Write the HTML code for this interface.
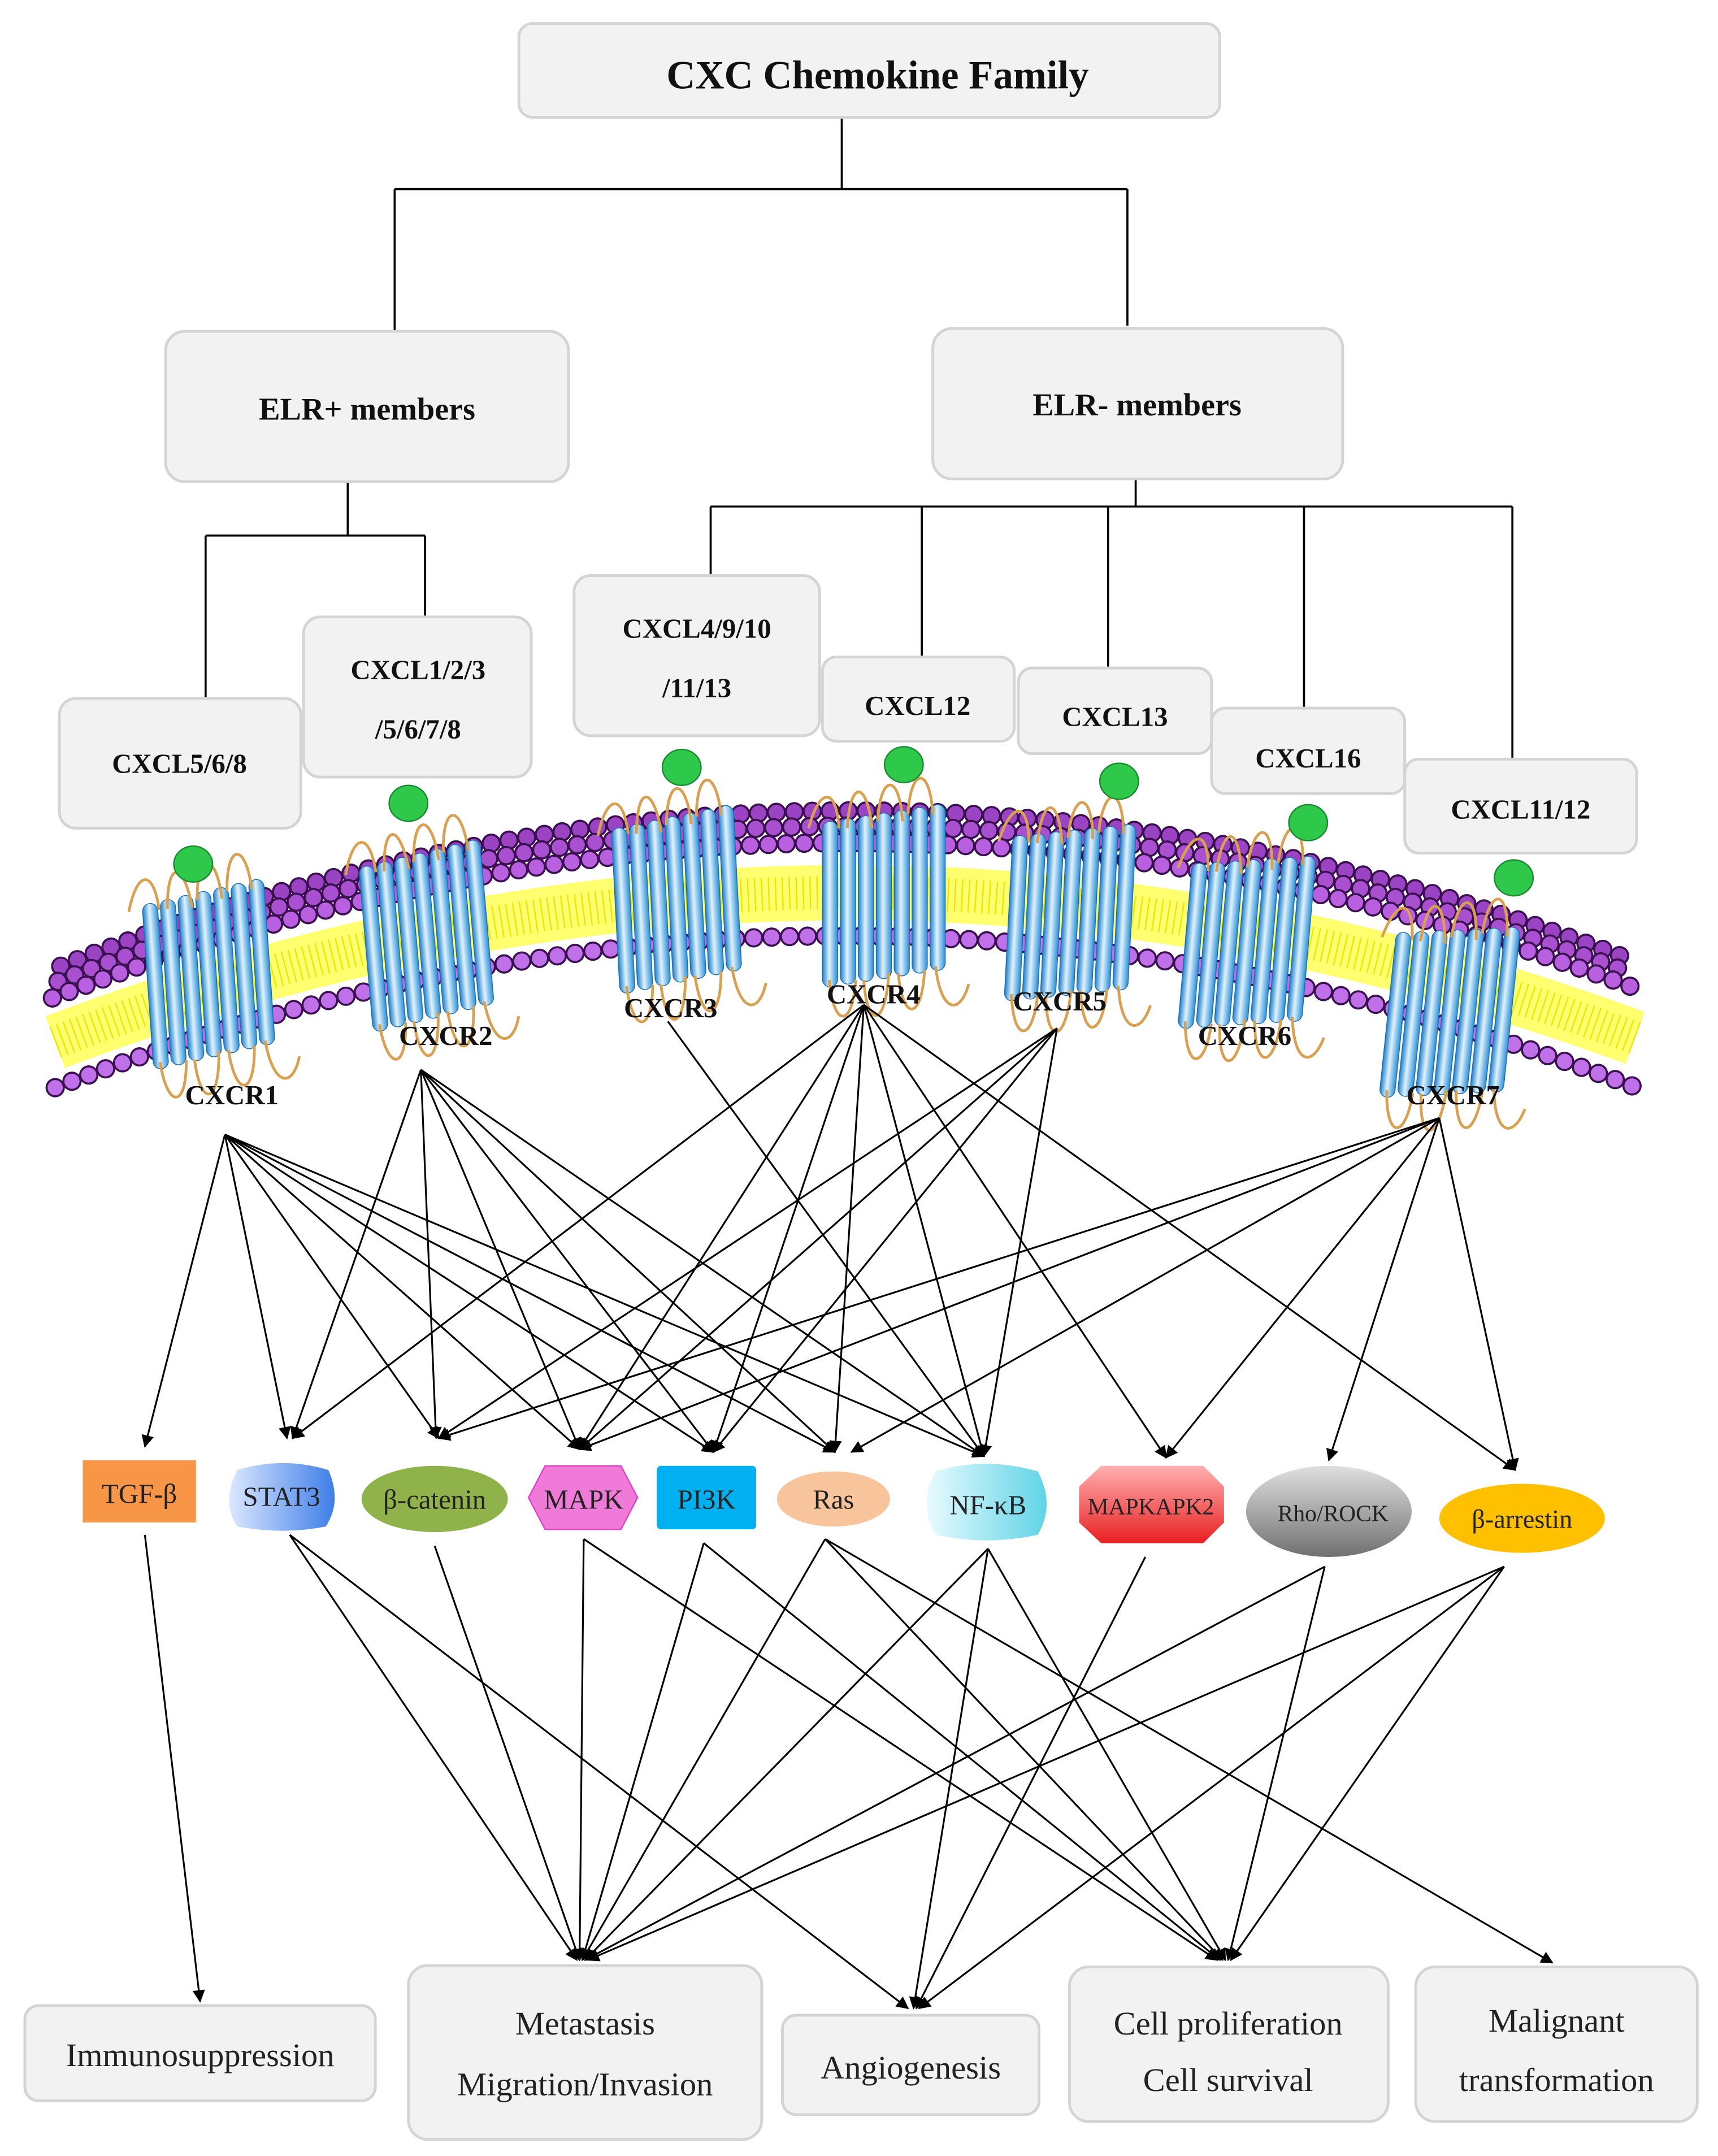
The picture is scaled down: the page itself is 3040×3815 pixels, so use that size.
<!DOCTYPE html>
<html><head><meta charset="utf-8"><style>
html,body{margin:0;padding:0;background:#fff;}
svg{display:block;}
text{font-family:"Liberation Serif",serif;}
</style></head><body>
<svg width="3040" height="3815" viewBox="0 0 1245 1562" preserveAspectRatio="none" xmlns="http://www.w3.org/2000/svg">
<defs>
<marker id="ah" viewBox="0 0 10 10" refX="9" refY="5" markerWidth="10" markerHeight="9" orient="auto-start-reverse" markerUnits="userSpaceOnUse"><path d="M0,0 L10,5 L0,10 z" fill="#000"/></marker>
<linearGradient id="cyl" x1="0" x2="1"><stop offset="0" stop-color="#1f7fc8"/><stop offset="0.45" stop-color="#dff3ff"/><stop offset="1" stop-color="#2b8fd6"/></linearGradient>
<linearGradient id="st3" x1="0" x2="1"><stop offset="0" stop-color="#dbe8ff"/><stop offset="1" stop-color="#3e7ee8"/></linearGradient>
<linearGradient id="nfk" x1="0" x2="1"><stop offset="0" stop-color="#e8fbff"/><stop offset="1" stop-color="#5fd4e6"/></linearGradient>
<linearGradient id="mk2" x1="0" y1="0" x2="0" y2="1"><stop offset="0" stop-color="#ffb0b0"/><stop offset="1" stop-color="#e82020"/></linearGradient>
<linearGradient id="rho" x1="0" y1="0" x2="0" y2="1"><stop offset="0" stop-color="#e0e0e0"/><stop offset="1" stop-color="#707070"/></linearGradient>
<g id="rec">
  <rect x="0" y="0" width="11" height="120" rx="5.5" fill="url(#cyl)" stroke="#1a6fb5" stroke-width="0.6"/>
  <rect x="13" y="-2" width="11" height="120" rx="5.5" fill="url(#cyl)" stroke="#1a6fb5" stroke-width="0.6"/>
  <rect x="26" y="-4" width="11" height="120" rx="5.5" fill="url(#cyl)" stroke="#1a6fb5" stroke-width="0.6"/>
  <rect x="39" y="-6" width="11" height="120" rx="5.5" fill="url(#cyl)" stroke="#1a6fb5" stroke-width="0.6"/>
  <rect x="52" y="-8" width="11" height="120" rx="5.5" fill="url(#cyl)" stroke="#1a6fb5" stroke-width="0.6"/>
  <rect x="65" y="-10" width="11" height="120" rx="5.5" fill="url(#cyl)" stroke="#1a6fb5" stroke-width="0.6"/>
  <rect x="78" y="-12" width="11" height="120" rx="5.5" fill="url(#cyl)" stroke="#1a6fb5" stroke-width="0.6"/>
  <path d="M-10,5 C-2,-25 10,-25 12,5 M18,5 C20,-30 32,-30 36,5 M40,0 C42,-35 56,-35 58,0 M62,-5 C64,-40 78,-40 80,-5 M5,115 C8,150 22,150 24,115 M30,115 C32,150 46,150 48,110 M55,110 C58,145 72,145 74,108 M82,105 C86,140 100,140 106,118" fill="none" stroke="#d9a050" stroke-width="2"/>
</g>
</defs>

<!-- tree lines -->
<g stroke="#000" stroke-width="1.5" fill="none">
<path d="M610,85 V137 M286,137 H817 M286,137 V240 M817,137 V236"/>
<path d="M252,349 V388 M149,388 H308 M149,388 V505 M308,388 V447"/>
<path d="M823,347 V367 M515,367 H1096 M515,367 V416 M668,367 V475 M803,367 V483 M945,367 V512 M1096,367 V549"/>
</g>

<!-- boxes -->
<g fill="#f2f2f2" stroke="#d4d4d4" stroke-width="2">
<rect x="376" y="17" width="508" height="68" rx="10"/>
<rect x="120" y="240" width="292" height="109" rx="14"/>
<rect x="676" y="238" width="297" height="109" rx="14"/>
<rect x="43" y="506" width="175" height="94" rx="12"/>
<rect x="220" y="447" width="165" height="116" rx="12"/>
<rect x="416" y="417" width="178" height="116" rx="12"/>
<rect x="596" y="476" width="139" height="61" rx="10"/>
<rect x="738" y="484" width="140" height="62" rx="10"/>
<rect x="878" y="513" width="140" height="62" rx="10"/>
<rect x="1018" y="550" width="168" height="68" rx="10"/>
</g>
<g font-weight="bold" text-anchor="middle" fill="#111">
<text x="636" y="64" font-size="29">CXC Chemokine Family</text>
<text x="266" y="304" font-size="23">ELR+ members</text>
<text x="824" y="301" font-size="23">ELR- members</text>
<text x="130" y="560" font-size="20">CXCL5/6/8</text>
<text x="303" y="492" font-size="20">CXCL1/2/3</text>
<text x="303" y="535" font-size="20">/5/6/7/8</text>
<text x="505" y="462" font-size="20">CXCL4/9/10</text>
<text x="505" y="505" font-size="20">/11/13</text>
<text x="665" y="518" font-size="20">CXCL12</text>
<text x="808" y="526" font-size="20">CXCL13</text>
<text x="948" y="556" font-size="20">CXCL16</text>
<text x="1102" y="593" font-size="20">CXCL11/12</text>
</g>

<!-- membrane -->
<path d="M40,755 Q610,540 1185,752" fill="none" stroke="#ffff70" stroke-width="40"/>
<path d="M40,755 Q610,540 1185,752" fill="none" stroke="#e8e800" stroke-width="24" stroke-dasharray="1 4"/>
<g fill="none" stroke-linecap="round">
<path d="M44,700 Q610,478 1178,694" stroke="#3a1050" stroke-width="14" stroke-dasharray="0 13"/>
<path d="M44,700 Q610,478 1178,694" stroke="#9a44c4" stroke-width="11" stroke-dasharray="0 13"/>
<path d="M42,711 Q610,489 1182,705" stroke="#3a1050" stroke-width="14" stroke-dasharray="0 13"/>
<path d="M42,711 Q610,489 1182,705" stroke="#a850d0" stroke-width="11" stroke-dasharray="0 13"/>
<path d="M38,723 Q610,501 1188,717" stroke="#3a1050" stroke-width="14" stroke-dasharray="0 13"/>
<path d="M38,723 Q610,501 1188,717" stroke="#b860e0" stroke-width="11" stroke-dasharray="0 13"/>
<path d="M40,788 Q610,568 1186,788" stroke="#3a1050" stroke-width="14" stroke-dasharray="0 13"/>
<path d="M40,788 Q610,568 1186,788" stroke="#c070e8" stroke-width="11" stroke-dasharray="0 13"/>
</g>

<!-- receptors -->
<use href="#rec" transform="translate(103,655) rotate(-4)"/>
<use href="#rec" transform="translate(260,628) rotate(-5)"/>
<use href="#rec" transform="translate(443,600) rotate(-3)"/>
<use href="#rec" transform="translate(596,595) rotate(0)"/>
<use href="#rec" transform="translate(734,605) rotate(3)"/>
<use href="#rec" transform="translate(864,625) rotate(5)"/>
<use href="#rec" transform="translate(1012,675) rotate(6)"/>

<g fill="#2ec94a" stroke="#1a8a2e" stroke-width="1">
<ellipse cx="140" cy="626" rx="14" ry="13"/>
<ellipse cx="296" cy="582" rx="14" ry="13"/>
<ellipse cx="494" cy="556" rx="14" ry="13"/>
<ellipse cx="655" cy="554" rx="14" ry="13"/>
<ellipse cx="811" cy="566" rx="14" ry="13"/>
<ellipse cx="948" cy="596" rx="14" ry="13"/>
<ellipse cx="1097" cy="636" rx="14" ry="13"/>
</g>
<g font-weight="bold" text-anchor="middle" font-size="20" fill="#111">
<text x="168" y="800">CXCR1</text>
<text x="323" y="757">CXCR2</text>
<text x="486" y="737">CXCR3</text>
<text x="633" y="727">CXCR4</text>
<text x="768" y="732">CXCR5</text>
<text x="902" y="757">CXCR6</text>
<text x="1053" y="800">CXCR7</text>
</g>

<!-- receptor -> signaling arrows -->
<g stroke="#000" stroke-width="1.3" fill="none" marker-end="url(#ah)">
<path d="M163,822 L105,1048"/><path d="M163,822 L208,1042"/><path d="M163,822 L318,1042"/><path d="M163,822 L420,1050"/><path d="M163,822 L517,1052"/><path d="M163,822 L605,1052"/><path d="M163,822 L713,1055"/>
<path d="M305,775 L212,1042"/><path d="M305,775 L316,1042"/><path d="M305,775 L420,1050"/><path d="M305,775 L517,1052"/><path d="M305,775 L605,1052"/><path d="M305,775 L713,1055"/>
<path d="M484,740 L713,1055"/>
<path d="M626,728 L212,1042"/><path d="M626,728 L420,1050"/><path d="M626,728 L517,1052"/><path d="M626,728 L605,1052"/><path d="M626,728 L713,1055"/><path d="M626,728 L845,1056"/><path d="M626,728 L1098,1065"/>
<path d="M766,745 L318,1042"/><path d="M766,745 L420,1050"/><path d="M766,745 L517,1052"/><path d="M766,745 L713,1055"/>
<path d="M1043,810 L318,1042"/><path d="M1043,810 L420,1050"/><path d="M1043,810 L617,1052"/><path d="M1043,810 L845,1056"/><path d="M1043,810 L963,1058"/><path d="M1043,810 L1098,1065"/>
</g>

<!-- signaling nodes -->
<rect x="60" y="1058" width="82" height="45" fill="#f79646"/>
<path d="M172,1065 Q205,1055 238,1065 Q248,1088 236,1106 Q205,1112 172,1106 Q160,1088 172,1065 z" fill="url(#st3)"/>
<ellipse cx="315" cy="1086" rx="53" ry="24" fill="#8fb34a"/>
<polygon points="395,1062 450,1062 462,1085 450,1108 395,1108 383,1085" fill="#f07ad8" stroke="#e040c8"/>
<rect x="476" y="1062" width="72" height="46" rx="3" fill="#00b0f0"/>
<ellipse cx="604" cy="1086" rx="41" ry="20" fill="#f8c49c"/>
<path d="M678,1066 Q714,1055 752,1066 Q765,1090 752,1112 Q714,1120 678,1112 Q665,1090 678,1066 z" fill="url(#nfk)"/>
<polygon points="798,1062 872,1062 887,1077 887,1103 872,1118 798,1118 782,1103 782,1077" fill="url(#mk2)"/>
<ellipse cx="963" cy="1095" rx="60" ry="33" fill="url(#rho)"/>
<ellipse cx="1103" cy="1100" rx="60" ry="25" fill="#ffc000"/>
<g text-anchor="middle" font-size="20" fill="#222">
<text x="101" y="1089">TGF-β</text>
<text x="204" y="1091">STAT3</text>
<text x="315" y="1093">β-catenin</text>
<text x="423" y="1093">MAPK</text>
<text x="512" y="1093">PI3K</text>
<text x="604" y="1093">Ras</text>
<text x="716" y="1097">NF-κB</text>
<text x="834" y="1097" font-size="17">MAPKAPK2</text>
<text x="966" y="1102" font-size="17">Rho/ROCK</text>
<text x="1103" y="1107" font-size="19">β-arrestin</text>
</g>

<!-- signaling -> outcome arrows -->
<g stroke="#000" stroke-width="1.3" fill="none" marker-end="url(#ah)">
<path d="M105,1112 L145,1450"/>
<path d="M210,1112 L418,1420"/><path d="M210,1112 L658,1455"/>
<path d="M315,1120 L420,1420"/>
<path d="M423,1115 L420,1420"/><path d="M423,1115 L882,1420"/>
<path d="M510,1118 L422,1420"/><path d="M510,1118 L884,1420"/>
<path d="M598,1115 L422,1420"/><path d="M598,1115 L886,1420"/><path d="M598,1115 L1125,1422"/>
<path d="M716,1122 L424,1420"/><path d="M716,1122 L662,1455"/><path d="M716,1122 L888,1420"/>
<path d="M830,1128 L664,1455"/>
<path d="M960,1135 L424,1420"/><path d="M960,1135 L890,1420"/>
<path d="M1090,1135 L426,1420"/><path d="M1090,1135 L666,1455"/><path d="M1090,1135 L892,1420"/>
</g>

<!-- outcome boxes -->
<g fill="#f2f2f2" stroke="#d4d4d4" stroke-width="2">
<rect x="18" y="1453" width="254" height="69" rx="10"/>
<rect x="296" y="1424" width="256" height="126" rx="14"/>
<rect x="567" y="1460" width="186" height="72" rx="10"/>
<rect x="775" y="1425" width="231" height="112" rx="14"/>
<rect x="1026" y="1425" width="204" height="112" rx="14"/>
</g>
<g text-anchor="middle" font-size="24" fill="#222">
<text x="145" y="1497">Immunosuppression</text>
<text x="424" y="1474">Metastasis</text>
<text x="424" y="1518">Migration/Invasion</text>
<text x="660" y="1506">Angiogenesis</text>
<text x="890" y="1474">Cell proliferation</text>
<text x="890" y="1515">Cell survival</text>
<text x="1128" y="1472">Malignant</text>
<text x="1128" y="1515">transformation</text>
</g>
</svg>
</body></html>
